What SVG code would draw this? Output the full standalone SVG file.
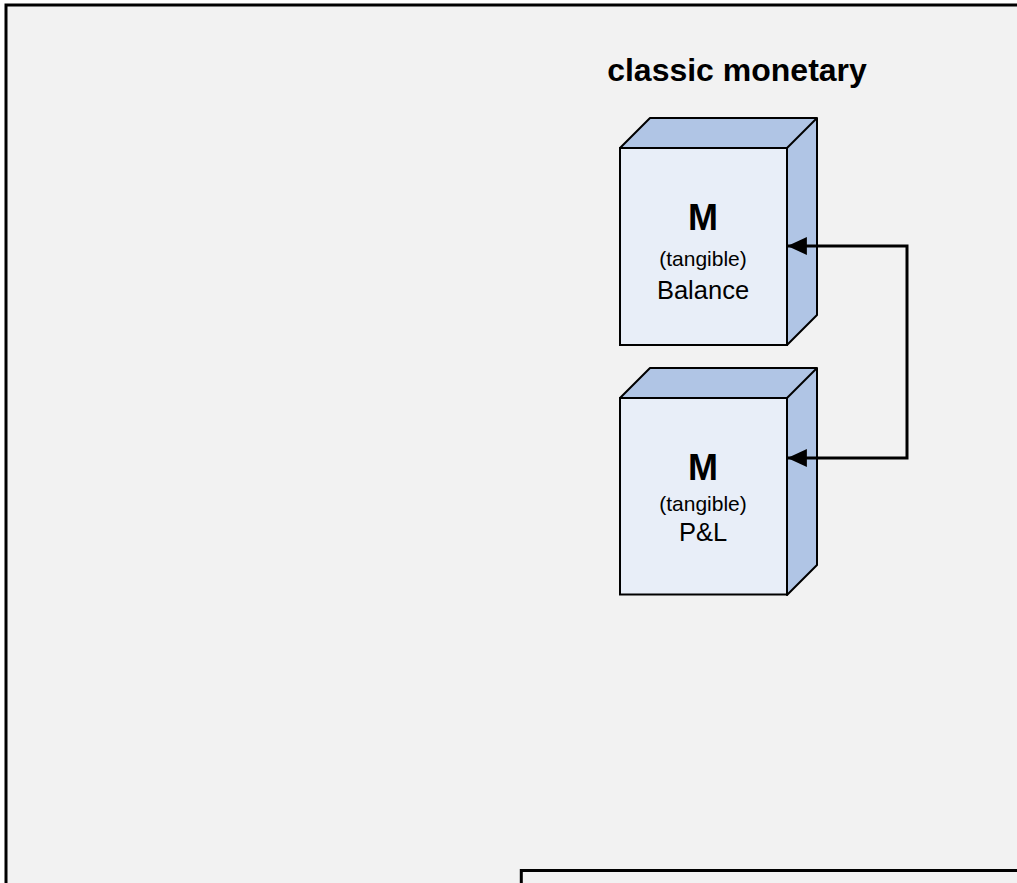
<svg xmlns="http://www.w3.org/2000/svg" width="1017" height="883" viewBox="0 0 1017 883">
<style>
.frame{fill:#f2f2f2;stroke:#000;stroke-width:3}
.front{fill:#e8eef8;stroke:#000;stroke-width:2}
.side{fill:#b0c5e5;stroke:#000;stroke-width:2;stroke-linejoin:round}
.t{font-family:"Liberation Sans",Arial,sans-serif;fill:#000;text-anchor:middle}
.big{font-size:36px;font-weight:bold}
.sub{font-size:21px}
.name{font-size:25.5px}
.title{font-size:32px;font-weight:bold}
.conn{fill:none;stroke:#000;stroke-width:3}
</style>
<defs>
<marker id="arr" markerWidth="6.5" markerHeight="6" refX="6.3" refY="3" orient="auto" markerUnits="strokeWidth">
<path d="M0,0 L6.5,3 L0,6 Z" fill="#000"/>
</marker>
<marker id="arrs" markerWidth="6.5" markerHeight="6" refX="0.2" refY="3" orient="auto" markerUnits="strokeWidth">
<path d="M6.5,0 L0,3 L6.5,6 Z" fill="#000"/>
</marker>
</defs>
<rect width="1017" height="883" fill="#ffffff"/>
<rect class="frame" x="6" y="5" width="1030" height="900"/>
<rect class="frame" x="521.3" y="870.5" width="520" height="40"/>
<text class="t title" x="737" y="81">classic monetary</text>
<g id="balance">
<path class="side" d="M620,148 L650,118 L817,118 L817,315 L787,345 L787,148 Z"/>
<path class="side" d="M787,148 L817,118"/>
<rect class="front" x="620" y="148" width="167" height="197"/>
<text class="t big" x="703" y="229.5">M</text>
<text class="t sub" x="703" y="266">(tangible)</text>
<text class="t name" x="703" y="298.5">Balance</text>
</g>
<g id="pl">
<path class="side" d="M620,398 L650,368 L817,368 L817,565 L787,595 L787,398 Z"/>
<path class="side" d="M787,398 L817,368"/>
<rect class="front" x="620" y="398" width="167" height="196.5"/>
<text class="t big" x="703" y="479.5">M</text>
<text class="t sub" x="703" y="511">(tangible)</text>
<text class="t name" x="703" y="540.5">P&amp;L</text>
</g>
<g id="connectors">
<path class="conn" d="M788,246 L907,246 L907,458 L788,458" marker-start="url(#arrs)" marker-end="url(#arr)"/>
</g>
</svg>
